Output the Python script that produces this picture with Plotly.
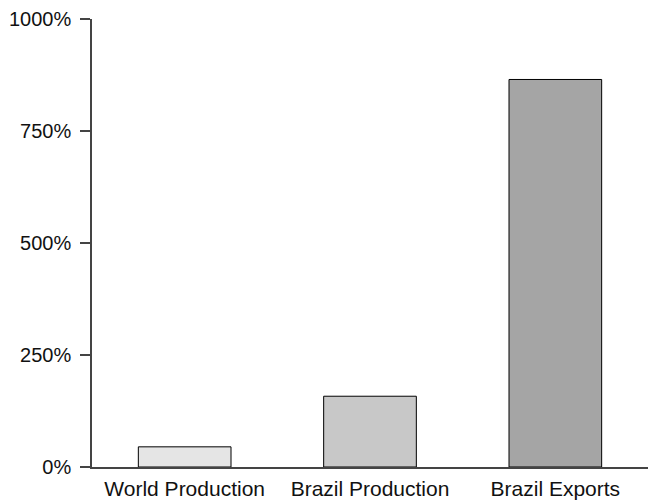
import plotly.graph_objects as go

categories = ["World Production", "Brazil Production", "Brazil Exports"]
values = [45, 158, 865]
bar_colors = ["#e5e5e5", "#c8c8c8", "#a5a5a5"]
y_ticks = [0, 250, 500, 750, 1000]
y_tick_labels = ["0%", "250%", "500%", "750%", "1000%"]

fig = go.Figure(
    go.Bar(
        x=categories,
        y=values,
        marker=dict(color=bar_colors, line=dict(color="#000000", width=1)),
    )
)

# the page has an 8px body margin, so the figure is sized to fit inside the window
fig.update_layout(
    width=650,
    height=494,
    margin=dict(l=84, r=9.5, t=11, b=35.3),
    paper_bgcolor="white",
    plot_bgcolor="white",
    bargap=0.5,
    showlegend=False,
    font=dict(family="Liberation Sans, Arial, sans-serif", size=20, color="#111111"),
)

fig.update_yaxes(
    range=[0, 1000],
    tickvals=y_ticks,
    ticktext=y_tick_labels,
    showgrid=False,
    zeroline=False,
    showline=True,
    linecolor="#444444",
    linewidth=1.5,
    ticks="outside",
    ticklen=10,
    tickwidth=1.5,
    tickcolor="#444444",
    ticklabelstandoff=5,
    automargin=False,
)

fig.update_xaxes(
    showgrid=False,
    showline=True,
    linecolor="#444444",
    linewidth=1.5,
    ticks="",
    tickfont=dict(size=21),
    ticklabelstandoff=2,
    automargin=False,
)

fig.write_html("out.html")
